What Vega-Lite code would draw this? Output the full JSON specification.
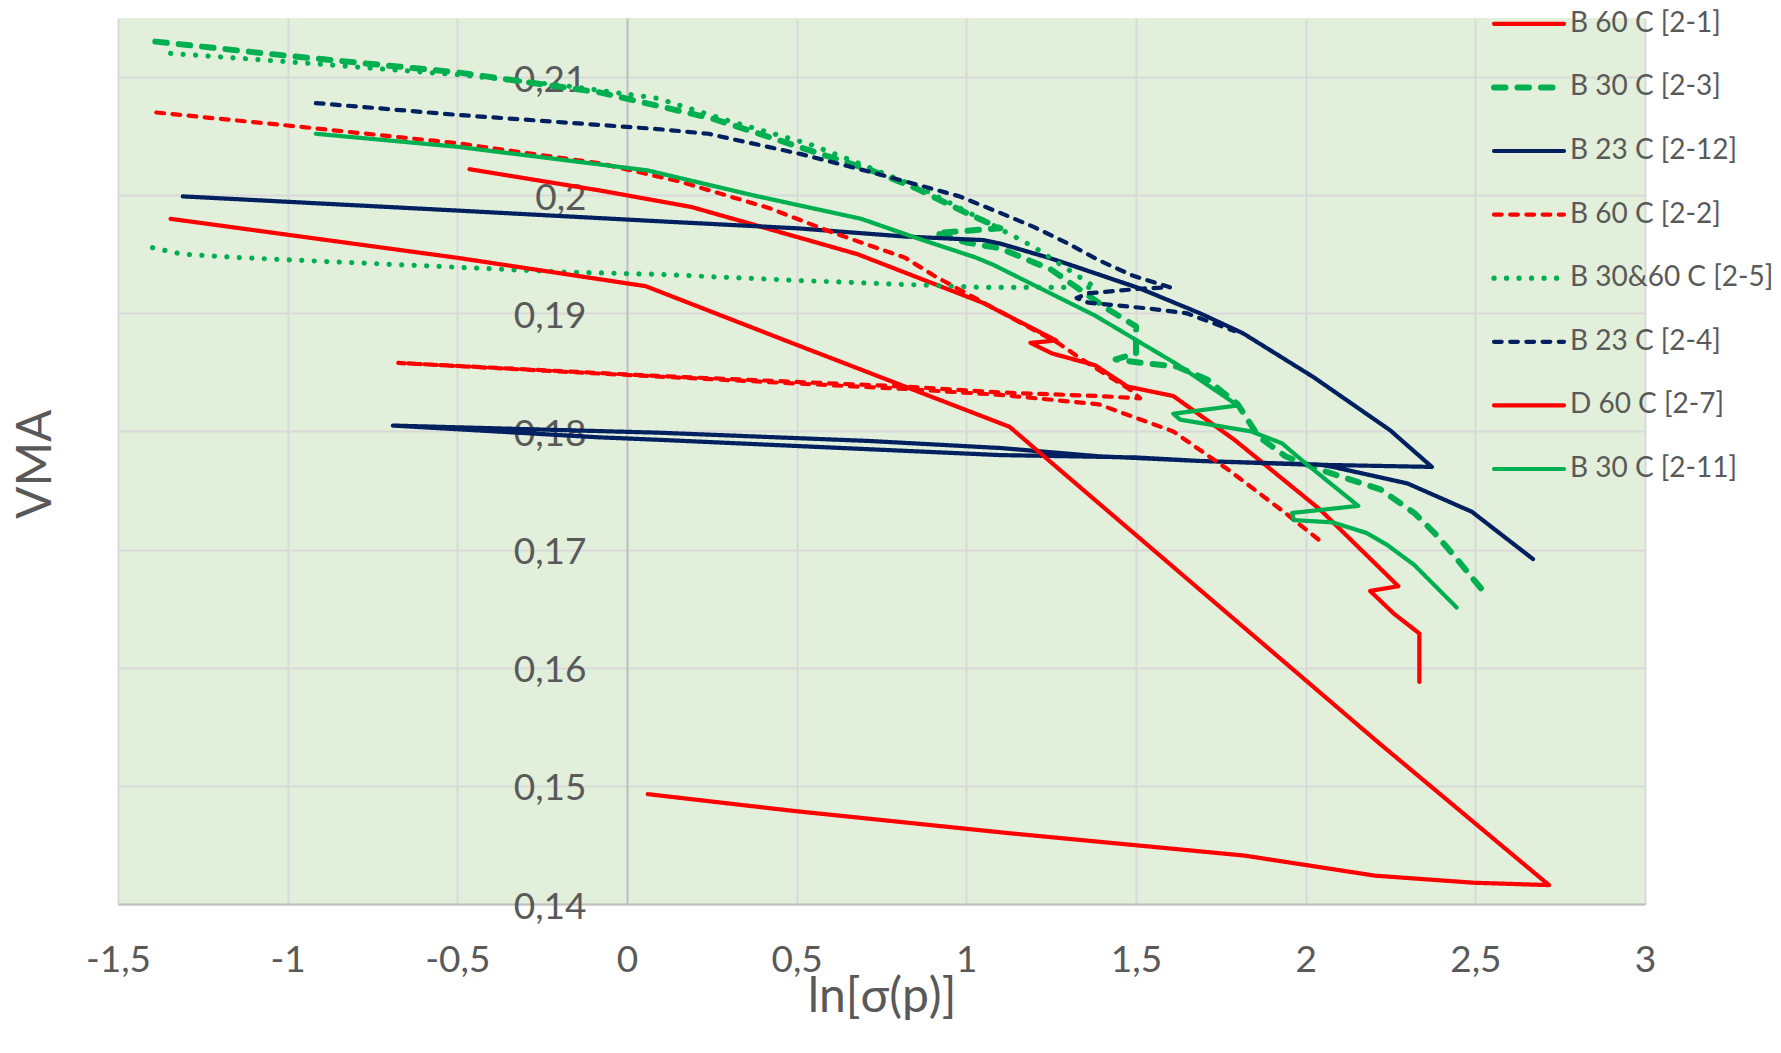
{
  "$schema": "https://vega.github.io/schema/vega-lite/v6.json",
  "width": 1527,
  "height": 886,
  "autosize": {"type": "none"},
  "padding": {"left": 118, "top": 18, "right": 136, "bottom": 149},
  "background": "white",
  "data": {
    "values": [
      {"s": "B 60 C [2-1]", "i": 1, "x": -0.464, "y": 0.2022},
      {"s": "B 60 C [2-1]", "i": 2, "x": -0.08, "y": 0.2004},
      {"s": "B 60 C [2-1]", "i": 3, "x": 0.19, "y": 0.199},
      {"s": "B 60 C [2-1]", "i": 4, "x": 0.68, "y": 0.195},
      {"s": "B 60 C [2-1]", "i": 5, "x": 1.048, "y": 0.1909},
      {"s": "B 60 C [2-1]", "i": 6, "x": 1.265, "y": 0.1877},
      {"s": "B 60 C [2-1]", "i": 7, "x": 1.189, "y": 0.1875},
      {"s": "B 60 C [2-1]", "i": 8, "x": 1.253, "y": 0.1866},
      {"s": "B 60 C [2-1]", "i": 9, "x": 1.38, "y": 0.1856},
      {"s": "B 60 C [2-1]", "i": 10, "x": 1.475, "y": 0.1838},
      {"s": "B 60 C [2-1]", "i": 11, "x": 1.61, "y": 0.183},
      {"s": "B 60 C [2-1]", "i": 12, "x": 1.79, "y": 0.1793},
      {"s": "B 60 C [2-1]", "i": 13, "x": 2.042, "y": 0.1734},
      {"s": "B 60 C [2-1]", "i": 14, "x": 2.273, "y": 0.1669},
      {"s": "B 60 C [2-1]", "i": 15, "x": 2.19, "y": 0.1665},
      {"s": "B 60 C [2-1]", "i": 16, "x": 2.259, "y": 0.1646},
      {"s": "B 60 C [2-1]", "i": 17, "x": 2.335, "y": 0.1629},
      {"s": "B 60 C [2-1]", "i": 18, "x": 2.335, "y": 0.1588},

      {"s": "B 30 C [2-3]", "i": 1, "x": -1.39, "y": 0.213},
      {"s": "B 30 C [2-3]", "i": 2, "x": -1.0, "y": 0.2118},
      {"s": "B 30 C [2-3]", "i": 3, "x": -0.5, "y": 0.2104},
      {"s": "B 30 C [2-3]", "i": 4, "x": -0.08, "y": 0.2087},
      {"s": "B 30 C [2-3]", "i": 5, "x": 0.1, "y": 0.2075},
      {"s": "B 30 C [2-3]", "i": 6, "x": 0.25, "y": 0.2065},
      {"s": "B 30 C [2-3]", "i": 7, "x": 0.4, "y": 0.2051},
      {"s": "B 30 C [2-3]", "i": 8, "x": 0.57, "y": 0.2035},
      {"s": "B 30 C [2-3]", "i": 9, "x": 0.72, "y": 0.2021},
      {"s": "B 30 C [2-3]", "i": 10, "x": 0.85, "y": 0.2006},
      {"s": "B 30 C [2-3]", "i": 11, "x": 1.0, "y": 0.1985},
      {"s": "B 30 C [2-3]", "i": 12, "x": 1.1, "y": 0.1972},
      {"s": "B 30 C [2-3]", "i": 13, "x": 0.91, "y": 0.1968},
      {"s": "B 30 C [2-3]", "i": 14, "x": 1.0, "y": 0.196},
      {"s": "B 30 C [2-3]", "i": 15, "x": 1.1, "y": 0.1955},
      {"s": "B 30 C [2-3]", "i": 16, "x": 1.25, "y": 0.1937},
      {"s": "B 30 C [2-3]", "i": 17, "x": 1.33, "y": 0.1921},
      {"s": "B 30 C [2-3]", "i": 18, "x": 1.42, "y": 0.1903},
      {"s": "B 30 C [2-3]", "i": 19, "x": 1.5, "y": 0.1889},
      {"s": "B 30 C [2-3]", "i": 20, "x": 1.5, "y": 0.1866},
      {"s": "B 30 C [2-3]", "i": 21, "x": 1.44, "y": 0.1861},
      {"s": "B 30 C [2-3]", "i": 22, "x": 1.52, "y": 0.1858},
      {"s": "B 30 C [2-3]", "i": 23, "x": 1.62, "y": 0.1855},
      {"s": "B 30 C [2-3]", "i": 24, "x": 1.71, "y": 0.1844},
      {"s": "B 30 C [2-3]", "i": 25, "x": 1.8, "y": 0.1823},
      {"s": "B 30 C [2-3]", "i": 26, "x": 1.86, "y": 0.1796},
      {"s": "B 30 C [2-3]", "i": 27, "x": 1.94, "y": 0.1779},
      {"s": "B 30 C [2-3]", "i": 28, "x": 2.06, "y": 0.1766},
      {"s": "B 30 C [2-3]", "i": 29, "x": 2.22, "y": 0.1751},
      {"s": "B 30 C [2-3]", "i": 30, "x": 2.32, "y": 0.1731},
      {"s": "B 30 C [2-3]", "i": 31, "x": 2.38, "y": 0.1714},
      {"s": "B 30 C [2-3]", "i": 32, "x": 2.44, "y": 0.1694},
      {"s": "B 30 C [2-3]", "i": 33, "x": 2.52, "y": 0.1666},

      {"s": "B 23 C [2-12]", "i": 1, "x": -1.309, "y": 0.1999},
      {"s": "B 23 C [2-12]", "i": 2, "x": -0.5, "y": 0.1987},
      {"s": "B 23 C [2-12]", "i": 3, "x": 0.09, "y": 0.1978},
      {"s": "B 23 C [2-12]", "i": 4, "x": 0.5, "y": 0.1972},
      {"s": "B 23 C [2-12]", "i": 5, "x": 0.82, "y": 0.1965},
      {"s": "B 23 C [2-12]", "i": 6, "x": 1.05, "y": 0.1962},
      {"s": "B 23 C [2-12]", "i": 7, "x": 1.1, "y": 0.1959},
      {"s": "B 23 C [2-12]", "i": 8, "x": 1.243, "y": 0.1947},
      {"s": "B 23 C [2-12]", "i": 9, "x": 1.296, "y": 0.1942},
      {"s": "B 23 C [2-12]", "i": 10, "x": 1.512, "y": 0.1921},
      {"s": "B 23 C [2-12]", "i": 11, "x": 1.689, "y": 0.19},
      {"s": "B 23 C [2-12]", "i": 12, "x": 1.816, "y": 0.1883},
      {"s": "B 23 C [2-12]", "i": 13, "x": 2.023, "y": 0.1846},
      {"s": "B 23 C [2-12]", "i": 14, "x": 2.249, "y": 0.1801},
      {"s": "B 23 C [2-12]", "i": 15, "x": 2.372, "y": 0.177},
      {"s": "B 23 C [2-12]", "i": 16, "x": 2.0, "y": 0.1772},
      {"s": "B 23 C [2-12]", "i": 17, "x": 1.69, "y": 0.1775},
      {"s": "B 23 C [2-12]", "i": 18, "x": 1.39, "y": 0.1779},
      {"s": "B 23 C [2-12]", "i": 19, "x": 1.1, "y": 0.1786},
      {"s": "B 23 C [2-12]", "i": 20, "x": 0.71, "y": 0.1792},
      {"s": "B 23 C [2-12]", "i": 21, "x": 0.09, "y": 0.1799},
      {"s": "B 23 C [2-12]", "i": 22, "x": -0.69, "y": 0.1805},
      {"s": "B 23 C [2-12]", "i": 23, "x": -0.08, "y": 0.1795},
      {"s": "B 23 C [2-12]", "i": 24, "x": 0.09, "y": 0.1793},
      {"s": "B 23 C [2-12]", "i": 25, "x": 0.71, "y": 0.1785},
      {"s": "B 23 C [2-12]", "i": 26, "x": 1.1, "y": 0.178},
      {"s": "B 23 C [2-12]", "i": 27, "x": 1.5, "y": 0.1778},
      {"s": "B 23 C [2-12]", "i": 28, "x": 1.69, "y": 0.1775},
      {"s": "B 23 C [2-12]", "i": 29, "x": 2.04, "y": 0.1772},
      {"s": "B 23 C [2-12]", "i": 30, "x": 2.08, "y": 0.177},
      {"s": "B 23 C [2-12]", "i": 31, "x": 2.3, "y": 0.1756},
      {"s": "B 23 C [2-12]", "i": 32, "x": 2.49, "y": 0.1732},
      {"s": "B 23 C [2-12]", "i": 33, "x": 2.67, "y": 0.1692},

      {"s": "B 60 C [2-2]", "i": 1, "x": -1.387, "y": 0.207},
      {"s": "B 60 C [2-2]", "i": 2, "x": -1.0, "y": 0.2059},
      {"s": "B 60 C [2-2]", "i": 3, "x": -0.5, "y": 0.2044},
      {"s": "B 60 C [2-2]", "i": 4, "x": -0.08, "y": 0.2027},
      {"s": "B 60 C [2-2]", "i": 5, "x": 0.15, "y": 0.2012},
      {"s": "B 60 C [2-2]", "i": 6, "x": 0.42, "y": 0.1989},
      {"s": "B 60 C [2-2]", "i": 7, "x": 0.6, "y": 0.1969},
      {"s": "B 60 C [2-2]", "i": 8, "x": 0.82, "y": 0.1947},
      {"s": "B 60 C [2-2]", "i": 9, "x": 0.91, "y": 0.1931},
      {"s": "B 60 C [2-2]", "i": 10, "x": 1.16, "y": 0.1892},
      {"s": "B 60 C [2-2]", "i": 11, "x": 1.27, "y": 0.1875},
      {"s": "B 60 C [2-2]", "i": 12, "x": 1.33, "y": 0.1863},
      {"s": "B 60 C [2-2]", "i": 13, "x": 1.39, "y": 0.1852},
      {"s": "B 60 C [2-2]", "i": 14, "x": 1.49, "y": 0.1834},
      {"s": "B 60 C [2-2]", "i": 15, "x": 1.512, "y": 0.1828},
      {"s": "B 60 C [2-2]", "i": 16, "x": 1.39, "y": 0.183},
      {"s": "B 60 C [2-2]", "i": 17, "x": 1.1, "y": 0.1833},
      {"s": "B 60 C [2-2]", "i": 18, "x": 0.82, "y": 0.1838},
      {"s": "B 60 C [2-2]", "i": 19, "x": 0.09, "y": 0.1847},
      {"s": "B 60 C [2-2]", "i": 20, "x": -0.674, "y": 0.1858},
      {"s": "B 60 C [2-2]", "i": 21, "x": -0.08, "y": 0.1849},
      {"s": "B 60 C [2-2]", "i": 22, "x": 0.82, "y": 0.1836},
      {"s": "B 60 C [2-2]", "i": 23, "x": 1.1, "y": 0.1831},
      {"s": "B 60 C [2-2]", "i": 24, "x": 1.39, "y": 0.1823},
      {"s": "B 60 C [2-2]", "i": 25, "x": 1.61, "y": 0.18},
      {"s": "B 60 C [2-2]", "i": 26, "x": 1.77, "y": 0.1768},
      {"s": "B 60 C [2-2]", "i": 27, "x": 1.94, "y": 0.1731},
      {"s": "B 60 C [2-2]", "i": 28, "x": 2.04, "y": 0.1708},

      {"s": "B 30&60 C [2-5]", "i": 1, "x": -1.345, "y": 0.212},
      {"s": "B 30&60 C [2-5]", "i": 2, "x": -1.0, "y": 0.2113},
      {"s": "B 30&60 C [2-5]", "i": 3, "x": -0.5, "y": 0.2102},
      {"s": "B 30&60 C [2-5]", "i": 4, "x": -0.19, "y": 0.2093},
      {"s": "B 30&60 C [2-5]", "i": 5, "x": 0.09, "y": 0.2082},
      {"s": "B 30&60 C [2-5]", "i": 6, "x": 0.3, "y": 0.2063},
      {"s": "B 30&60 C [2-5]", "i": 7, "x": 0.54, "y": 0.2043},
      {"s": "B 30&60 C [2-5]", "i": 8, "x": 0.71, "y": 0.2024},
      {"s": "B 30&60 C [2-5]", "i": 9, "x": 0.88, "y": 0.2004},
      {"s": "B 30&60 C [2-5]", "i": 10, "x": 1.07, "y": 0.1976},
      {"s": "B 30&60 C [2-5]", "i": 11, "x": 1.2, "y": 0.1956},
      {"s": "B 30&60 C [2-5]", "i": 12, "x": 1.29, "y": 0.1939},
      {"s": "B 30&60 C [2-5]", "i": 13, "x": 1.38, "y": 0.1922},
      {"s": "B 30&60 C [2-5]", "i": 14, "x": 1.05, "y": 0.1922},
      {"s": "B 30&60 C [2-5]", "i": 15, "x": 0.49, "y": 0.1928},
      {"s": "B 30&60 C [2-5]", "i": 16, "x": 0.09, "y": 0.1933},
      {"s": "B 30&60 C [2-5]", "i": 17, "x": -0.19, "y": 0.1935},
      {"s": "B 30&60 C [2-5]", "i": 18, "x": -0.5, "y": 0.1939},
      {"s": "B 30&60 C [2-5]", "i": 19, "x": -0.82, "y": 0.1943},
      {"s": "B 30&60 C [2-5]", "i": 20, "x": -1.13, "y": 0.1947},
      {"s": "B 30&60 C [2-5]", "i": 21, "x": -1.31, "y": 0.195},
      {"s": "B 30&60 C [2-5]", "i": 22, "x": -1.42, "y": 0.1957},

      {"s": "B 23 C [2-4]", "i": 1, "x": -0.917, "y": 0.2078},
      {"s": "B 23 C [2-4]", "i": 2, "x": -0.5, "y": 0.2068},
      {"s": "B 23 C [2-4]", "i": 3, "x": 0.09, "y": 0.2056},
      {"s": "B 23 C [2-4]", "i": 4, "x": 0.24, "y": 0.2052},
      {"s": "B 23 C [2-4]", "i": 5, "x": 0.35, "y": 0.2045},
      {"s": "B 23 C [2-4]", "i": 6, "x": 0.51, "y": 0.2035},
      {"s": "B 23 C [2-4]", "i": 7, "x": 0.74, "y": 0.2018},
      {"s": "B 23 C [2-4]", "i": 8, "x": 0.98, "y": 0.1999},
      {"s": "B 23 C [2-4]", "i": 9, "x": 1.1, "y": 0.1985},
      {"s": "B 23 C [2-4]", "i": 10, "x": 1.2, "y": 0.1973},
      {"s": "B 23 C [2-4]", "i": 11, "x": 1.3, "y": 0.1959},
      {"s": "B 23 C [2-4]", "i": 12, "x": 1.39, "y": 0.1945},
      {"s": "B 23 C [2-4]", "i": 13, "x": 1.49, "y": 0.1932},
      {"s": "B 23 C [2-4]", "i": 14, "x": 1.6, "y": 0.1922},
      {"s": "B 23 C [2-4]", "i": 15, "x": 1.52, "y": 0.1921},
      {"s": "B 23 C [2-4]", "i": 16, "x": 1.36, "y": 0.1917},
      {"s": "B 23 C [2-4]", "i": 17, "x": 1.325, "y": 0.1913},
      {"s": "B 23 C [2-4]", "i": 18, "x": 1.36, "y": 0.1909},
      {"s": "B 23 C [2-4]", "i": 19, "x": 1.54, "y": 0.1904},
      {"s": "B 23 C [2-4]", "i": 20, "x": 1.65, "y": 0.19},
      {"s": "B 23 C [2-4]", "i": 21, "x": 1.79, "y": 0.1885},

      {"s": "D 60 C [2-7]", "i": 1, "x": -1.345, "y": 0.198},
      {"s": "D 60 C [2-7]", "i": 2, "x": -0.5, "y": 0.1947},
      {"s": "D 60 C [2-7]", "i": 3, "x": 0.055, "y": 0.1923},
      {"s": "D 60 C [2-7]", "i": 4, "x": 0.485, "y": 0.1875},
      {"s": "D 60 C [2-7]", "i": 5, "x": 1.127, "y": 0.1804},
      {"s": "D 60 C [2-7]", "i": 6, "x": 2.213, "y": 0.1537},
      {"s": "D 60 C [2-7]", "i": 7, "x": 2.717, "y": 0.1416},
      {"s": "D 60 C [2-7]", "i": 8, "x": 2.495, "y": 0.1418},
      {"s": "D 60 C [2-7]", "i": 9, "x": 2.204, "y": 0.1424},
      {"s": "D 60 C [2-7]", "i": 10, "x": 1.819, "y": 0.1441},
      {"s": "D 60 C [2-7]", "i": 11, "x": 1.124, "y": 0.146},
      {"s": "D 60 C [2-7]", "i": 12, "x": 0.484, "y": 0.1479},
      {"s": "D 60 C [2-7]", "i": 13, "x": 0.061, "y": 0.1493},

      {"s": "B 30 C [2-11]", "i": 1, "x": -0.917, "y": 0.2052},
      {"s": "B 30 C [2-11]", "i": 2, "x": -0.5, "y": 0.2041},
      {"s": "B 30 C [2-11]", "i": 3, "x": 0.06, "y": 0.2021},
      {"s": "B 30 C [2-11]", "i": 4, "x": 0.37, "y": 0.2},
      {"s": "B 30 C [2-11]", "i": 5, "x": 0.69, "y": 0.198},
      {"s": "B 30 C [2-11]", "i": 6, "x": 0.84, "y": 0.1965},
      {"s": "B 30 C [2-11]", "i": 7, "x": 1.03, "y": 0.1947},
      {"s": "B 30 C [2-11]", "i": 8, "x": 1.08, "y": 0.1941},
      {"s": "B 30 C [2-11]", "i": 9, "x": 1.38, "y": 0.1898},
      {"s": "B 30 C [2-11]", "i": 10, "x": 1.62, "y": 0.1857},
      {"s": "B 30 C [2-11]", "i": 11, "x": 1.8, "y": 0.1822},
      {"s": "B 30 C [2-11]", "i": 12, "x": 1.61, "y": 0.1815},
      {"s": "B 30 C [2-11]", "i": 13, "x": 1.63, "y": 0.181},
      {"s": "B 30 C [2-11]", "i": 14, "x": 1.84, "y": 0.18},
      {"s": "B 30 C [2-11]", "i": 15, "x": 1.93, "y": 0.179},
      {"s": "B 30 C [2-11]", "i": 16, "x": 2.0, "y": 0.1773},
      {"s": "B 30 C [2-11]", "i": 17, "x": 2.155, "y": 0.1737},
      {"s": "B 30 C [2-11]", "i": 18, "x": 1.96, "y": 0.1731},
      {"s": "B 30 C [2-11]", "i": 19, "x": 1.965, "y": 0.1725},
      {"s": "B 30 C [2-11]", "i": 20, "x": 2.08, "y": 0.1723},
      {"s": "B 30 C [2-11]", "i": 21, "x": 2.18, "y": 0.1714},
      {"s": "B 30 C [2-11]", "i": 22, "x": 2.24, "y": 0.1704},
      {"s": "B 30 C [2-11]", "i": 23, "x": 2.32, "y": 0.1687},
      {"s": "B 30 C [2-11]", "i": 24, "x": 2.445, "y": 0.1651}
    ]
  },
  "mark": {"type": "line", "strokeCap": "round", "strokeJoin": "round", "clip": true},
  "encoding": {
    "x": {
      "field": "x",
      "type": "quantitative",
      "scale": {"domain": [-1.5, 3], "nice": false, "zero": false},
      "axis": {
        "values": [-1.5, -1, -0.5, 0, 0.5, 1, 1.5, 2, 2.5, 3],
        "labelExpr": "(datum.value < 0 ? '-' : '') + replace(format(abs(datum.value), '~g'), '.', ',')",
        "labelPadding": 38,
        "labelFlush": false,
        "labelOverlap": false,
        "title": "ln[σ(p)]",
        "titleBaseline": "middle",
        "titleY": 93
      }
    },
    "y": {
      "field": "y",
      "type": "quantitative",
      "scale": {"domain": [0.14, 0.215], "nice": false, "zero": false},
      "axis": {
        "values": [0.14, 0.15, 0.16, 0.17, 0.18, 0.19, 0.2, 0.21],
        "labelExpr": "replace(format(datum.value, '~g'), '.', ',')",
        "offset": -509,
        "labelPadding": 41,
        "labelOffset": 3,
        "labelFlush": false,
        "labelOverlap": false,
        "title": "VMA",
        "titleBaseline": "middle",
        "titleAngle": 270,
        "titleX": -591,
        "titleY": 445.7
      }
    },
    "color": {
      "field": "s",
      "type": "nominal",
      "scale": {
        "domain": ["B 60 C [2-1]", "B 30 C [2-3]", "B 23 C [2-12]", "B 60 C [2-2]", "B 30&60 C [2-5]", "B 23 C [2-4]", "D 60 C [2-7]", "B 30 C [2-11]"],
        "range": ["#FF0000", "#00B050", "#002060", "#FF0000", "#00B050", "#002060", "#FF0000", "#00B050"]
      },
      "legend": {
        "title": null,
        "orient": "none",
        "legendX": 1397,
        "legendY": -8.2,
        "encode": {
          "symbols": {
            "update": {
              "strokeCap": {"value": "round"},
              "strokeWidth": {"signal": "datum.value === 'B 30 C [2-3]' ? 6 : datum.value === 'B 30&60 C [2-5]' ? 5.2 : 4.2"}
            }
          }
        }
      }
    },
    "strokeDash": {
      "field": "s",
      "type": "nominal",
      "scale": {
        "domain": ["B 60 C [2-1]", "B 30 C [2-3]", "B 23 C [2-12]", "B 60 C [2-2]", "B 30&60 C [2-5]", "B 23 C [2-4]", "D 60 C [2-7]", "B 30 C [2-11]"],
        "range": [[1, 0], [11.5, 12], [1, 0], [7.7, 8.5], [0.1, 12.4], [7.7, 8.5], [1, 0], [1, 0]]
      },
      "legend": {"title": null}
    },
    "strokeWidth": {
      "field": "s",
      "type": "nominal",
      "scale": {
        "type": "ordinal",
        "domain": ["B 60 C [2-1]", "B 30 C [2-3]", "B 23 C [2-12]", "B 60 C [2-2]", "B 30&60 C [2-5]", "B 23 C [2-4]", "D 60 C [2-7]", "B 30 C [2-11]"],
        "range": [4.2, 6, 4.2, 4.2, 5.2, 4.2, 4.2, 4.2]
      },
      "legend": null
    },
    "order": {"field": "i", "type": "quantitative"}
  },
  "config": {
    "view": {"fill": "#E2EFDA", "stroke": null},
    "axis": {
      "labelFont": "Lato",
      "titleFont": "Lato",
      "labelFontSize": 37,
      "titleFontSize": 48,
      "titleFontWeight": "normal",
      "labelColor": "#595959",
      "titleColor": "#595959",
      "gridColor": "#D9D9D9",
      "gridWidth": 2,
      "domainColor": "#BFBFBF",
      "domainWidth": 2,
      "ticks": false,
      "tickSize": 0
    },
    "legend": {
      "padding": 0,
      "symbolType": "M-5,0H5",
      "symbolSize": 196,
      "labelFont": "Lato",
      "labelFontSize": 28,
      "labelColor": "#595959",
      "labelOffset": 27,
      "labelLimit": 400,
      "rowPadding": 35.6
    }
  }
}
